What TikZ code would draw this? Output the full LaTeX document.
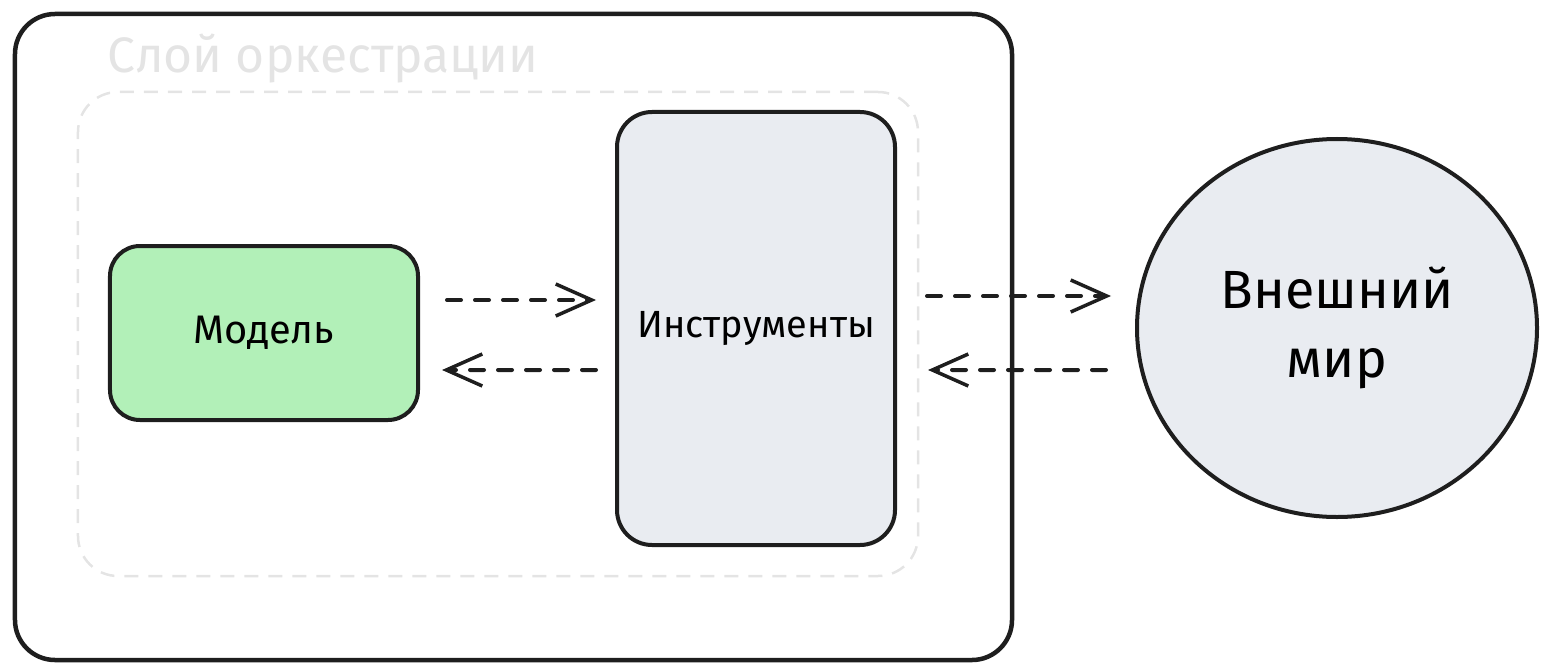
\documentclass[tikz,border=0pt]{standalone}
\usepackage{fontspec}
\setmainfont{Fira Sans}
\usetikzlibrary{arrows.meta,shapes.geometric,calc}
\definecolor{modelgreen}{HTML}{B2F0B8}
\definecolor{toolgray}{HTML}{E9ECF1}
\definecolor{framegray}{HTML}{E4E4E4}
\definecolor{inkblack}{HTML}{1E1E1E}
\tikzset{
  framebox/.style={draw=inkblack, line width=4.5bp, rounded corners=40bp, minimum width=997bp, minimum height=646bp},
  groupbox/.style={draw=framegray, line width=2.5bp, dash pattern=on 14bp off 10bp, rounded corners=40bp, minimum width=840bp, minimum height=484bp},
  modelbox/.style={draw=inkblack, fill=modelgreen, line width=4bp, rounded corners=30bp, minimum width=308bp, minimum height=174bp, font=\fontsize{40}{48}\selectfont},
  toolbox/.style={draw=inkblack, fill=toolgray, line width=4bp, rounded corners=35bp, minimum width=278bp, minimum height=433bp, font=\fontsize{38}{45}\selectfont},
  worldnode/.style={draw=inkblack, fill=toolgray, line width=4bp, ellipse, minimum width=400bp, minimum height=378bp, inner sep=0pt, align=center, font=\fontsize{54}{70}\selectfont},
  titletext/.style={text=framegray, font=\fontsize{50}{60}\selectfont, anchor=west, inner sep=0pt},
  flow/.style={draw=inkblack, line width=4bp, dash pattern=on 14bp off 14bp, line cap=round, -{Straight Barb[length=36bp,width=32bp,line width=3.5bp]}}
}
\begin{document}
\begin{tikzpicture}[x=1bp,y=-1bp]
\useasboundingbox (0,0) rectangle (1550,672);
\node[framebox] (frame) at (513.5,337) {};
\node[titletext] (title) at (107,59) {Слой оркестрации};
\node[groupbox] (group) at (498,334) {};
\node[modelbox] (model) at (264,333) {Модель};
\node[toolbox] (tools) at (756,328.5) {Инструменты};
\node[worldnode] (world) at (1337,328) {Внешний\\мир};
\draw[flow] ($(model.east)+(27,-33)$) -- ($(tools.west)+(-19,-28.5)$);
\draw[flow] ($(tools.west)+(-19,41.5)$) -- ($(model.east)+(22,37)$);
\draw[flow] ($(tools.east)+(30,-32.5)$) -- ($(world.west)+(-24,-32)$);
\draw[flow] ($(world.west)+(-29,42)$) -- ($(tools.east)+(31,41.5)$);
\end{tikzpicture}
\end{document}
